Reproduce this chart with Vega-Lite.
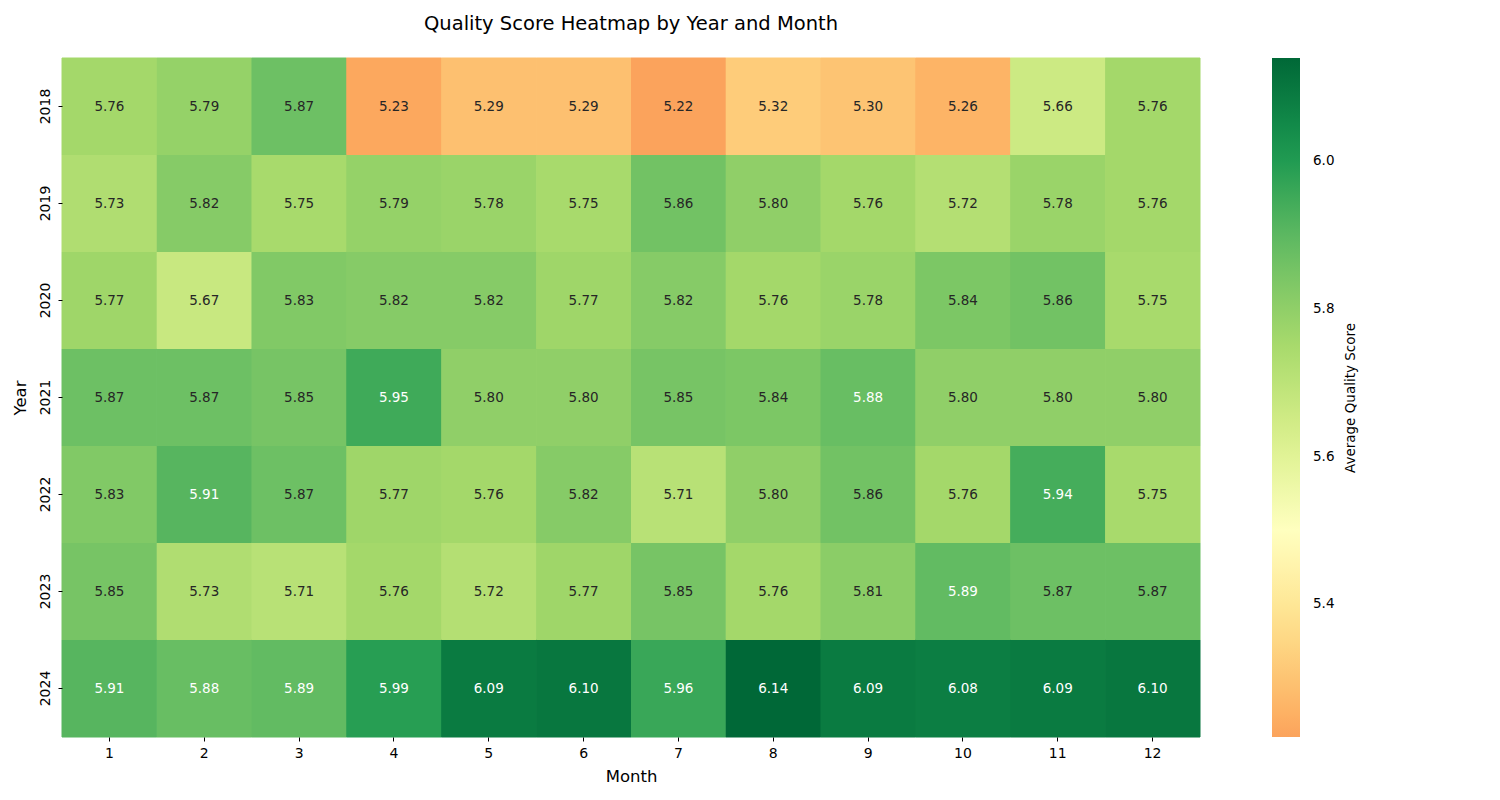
{
  "$schema": "https://vega.github.io/schema/vega-lite/v6.json",
  "width": 1138,
  "height": 679,
  "autosize": {"type": "none"},
  "padding": {"left": 62, "top": 58, "right": 300, "bottom": 63},
  "background": "white",
  "config": {
    "font": "DejaVu Sans",
    "view": {"stroke": null},
    "axis": {"labelFont": "DejaVu Sans", "titleFont": "DejaVu Sans", "labelColor": "#000000", "titleColor": "#000000", "tickColor": "#000000"}
  },
  "title": {"text": "Quality Score Heatmap by Year and Month", "fontSize": 19.5, "fontWeight": "normal", "font": "DejaVu Sans", "color": "#000000", "anchor": "middle", "offset": 23},
  "data": {"values": [
    {"year": 2018, "month": 1, "score": 5.76}, {"year": 2018, "month": 2, "score": 5.79}, {"year": 2018, "month": 3, "score": 5.87}, {"year": 2018, "month": 4, "score": 5.23}, {"year": 2018, "month": 5, "score": 5.29}, {"year": 2018, "month": 6, "score": 5.29}, {"year": 2018, "month": 7, "score": 5.22}, {"year": 2018, "month": 8, "score": 5.32}, {"year": 2018, "month": 9, "score": 5.30}, {"year": 2018, "month": 10, "score": 5.26}, {"year": 2018, "month": 11, "score": 5.66}, {"year": 2018, "month": 12, "score": 5.76},
    {"year": 2019, "month": 1, "score": 5.73}, {"year": 2019, "month": 2, "score": 5.82}, {"year": 2019, "month": 3, "score": 5.75}, {"year": 2019, "month": 4, "score": 5.79}, {"year": 2019, "month": 5, "score": 5.78}, {"year": 2019, "month": 6, "score": 5.75}, {"year": 2019, "month": 7, "score": 5.86}, {"year": 2019, "month": 8, "score": 5.80}, {"year": 2019, "month": 9, "score": 5.76}, {"year": 2019, "month": 10, "score": 5.72}, {"year": 2019, "month": 11, "score": 5.78}, {"year": 2019, "month": 12, "score": 5.76},
    {"year": 2020, "month": 1, "score": 5.77}, {"year": 2020, "month": 2, "score": 5.67}, {"year": 2020, "month": 3, "score": 5.83}, {"year": 2020, "month": 4, "score": 5.82}, {"year": 2020, "month": 5, "score": 5.82}, {"year": 2020, "month": 6, "score": 5.77}, {"year": 2020, "month": 7, "score": 5.82}, {"year": 2020, "month": 8, "score": 5.76}, {"year": 2020, "month": 9, "score": 5.78}, {"year": 2020, "month": 10, "score": 5.84}, {"year": 2020, "month": 11, "score": 5.86}, {"year": 2020, "month": 12, "score": 5.75},
    {"year": 2021, "month": 1, "score": 5.87}, {"year": 2021, "month": 2, "score": 5.87}, {"year": 2021, "month": 3, "score": 5.85}, {"year": 2021, "month": 4, "score": 5.95}, {"year": 2021, "month": 5, "score": 5.80}, {"year": 2021, "month": 6, "score": 5.80}, {"year": 2021, "month": 7, "score": 5.85}, {"year": 2021, "month": 8, "score": 5.84}, {"year": 2021, "month": 9, "score": 5.88}, {"year": 2021, "month": 10, "score": 5.80}, {"year": 2021, "month": 11, "score": 5.80}, {"year": 2021, "month": 12, "score": 5.80},
    {"year": 2022, "month": 1, "score": 5.83}, {"year": 2022, "month": 2, "score": 5.91}, {"year": 2022, "month": 3, "score": 5.87}, {"year": 2022, "month": 4, "score": 5.77}, {"year": 2022, "month": 5, "score": 5.76}, {"year": 2022, "month": 6, "score": 5.82}, {"year": 2022, "month": 7, "score": 5.71}, {"year": 2022, "month": 8, "score": 5.80}, {"year": 2022, "month": 9, "score": 5.86}, {"year": 2022, "month": 10, "score": 5.76}, {"year": 2022, "month": 11, "score": 5.94}, {"year": 2022, "month": 12, "score": 5.75},
    {"year": 2023, "month": 1, "score": 5.85}, {"year": 2023, "month": 2, "score": 5.73}, {"year": 2023, "month": 3, "score": 5.71}, {"year": 2023, "month": 4, "score": 5.76}, {"year": 2023, "month": 5, "score": 5.72}, {"year": 2023, "month": 6, "score": 5.77}, {"year": 2023, "month": 7, "score": 5.85}, {"year": 2023, "month": 8, "score": 5.76}, {"year": 2023, "month": 9, "score": 5.81}, {"year": 2023, "month": 10, "score": 5.89}, {"year": 2023, "month": 11, "score": 5.87}, {"year": 2023, "month": 12, "score": 5.87},
    {"year": 2024, "month": 1, "score": 5.91}, {"year": 2024, "month": 2, "score": 5.88}, {"year": 2024, "month": 3, "score": 5.89}, {"year": 2024, "month": 4, "score": 5.99}, {"year": 2024, "month": 5, "score": 6.09}, {"year": 2024, "month": 6, "score": 6.10}, {"year": 2024, "month": 7, "score": 5.96}, {"year": 2024, "month": 8, "score": 6.14}, {"year": 2024, "month": 9, "score": 6.09}, {"year": 2024, "month": 10, "score": 6.08}, {"year": 2024, "month": 11, "score": 6.09}, {"year": 2024, "month": 12, "score": 6.10}
  ]},
  "encoding": {
    "x": {"field": "month", "type": "ordinal", "title": "Month",
      "scale": {"paddingInner": 0, "paddingOuter": 0},
      "axis": {"labelAngle": 0, "labelFontSize": 14, "titleFontSize": 16.5, "titleFontWeight": "normal", "tickSize": 4, "domain": false, "labelPadding": 5, "titlePadding": 8}},
    "y": {"field": "year", "type": "ordinal", "title": "Year",
      "scale": {"paddingInner": 0, "paddingOuter": 0},
      "axis": {"labelAngle": -90, "labelFontSize": 14, "titleFontSize": 16.5, "titleFontWeight": "normal", "tickSize": 4, "domain": false, "labelPadding": 6, "titlePadding": 10, "labelAlign": "center", "labelBaseline": "bottom"}}
  },
  "resolve": {"legend": {"stroke": "independent"}},
  "layer": [
    {
      "mark": {"type": "rect", "filled": false, "strokeWidth": 1},
      "encoding": {
        "stroke": {"field": "score", "type": "quantitative",
          "scale": {"domain": [5.22, 5.244, 5.372, 5.5, 5.628, 5.756, 5.884, 6.012, 6.14],
                    "range": ["#fba35c", "#fdae61", "#fee08b", "#ffffbf", "#d9ef8b", "#a6d96a", "#66bd63", "#1a9850", "#006837"],
                    "interpolate": "rgb"},
          "legend": null}
      }
    },
    {
      "mark": {"type": "rect"},
      "encoding": {
        "color": {"field": "score", "type": "quantitative", "title": "Average Quality Score",
          "scale": {"domain": [5.22, 5.244, 5.372, 5.5, 5.628, 5.756, 5.884, 6.012, 6.14],
                    "range": ["#fba35c", "#fdae61", "#fee08b", "#ffffbf", "#d9ef8b", "#a6d96a", "#66bd63", "#1a9850", "#006837"],
                    "interpolate": "rgb"},
          "legend": {"orient": "right", "offset": 72, "gradientLength": 679, "gradientThickness": 28, "values": [5.4, 5.6, 5.8, 6.0], "format": ".1f", "labelFontSize": 13.5, "labelFont": "DejaVu Sans", "labelColor": "#000000", "labelOffset": 13, "titleOrient": "right", "titleFontSize": 13.5, "titleFontWeight": "normal", "titleFont": "DejaVu Sans", "titleColor": "#000000", "titleAnchor": "middle", "titlePadding": 24, "gradientStrokeWidth": 0,
            "encode": {"title": {"update": {"angle": {"value": -90}}}}}}
      }
    },
    {
      "mark": {"type": "text", "fontSize": 13.5, "font": "DejaVu Sans"},
      "encoding": {
        "text": {"field": "score", "type": "quantitative", "format": ".2f"},
        "color": {"condition": {"test": "datum.score >= 5.875", "value": "#ffffff"}, "value": "#262626"}
      }
    }
  ]
}
